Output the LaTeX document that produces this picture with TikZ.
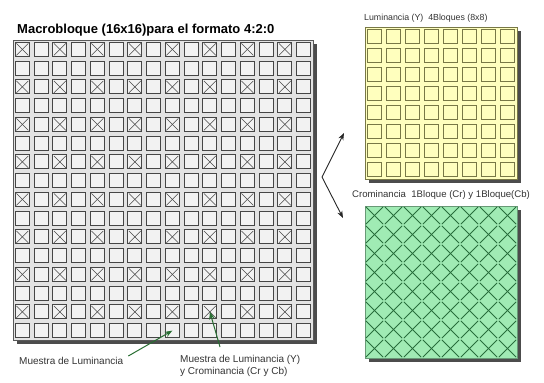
\documentclass[tikz,border=0pt]{standalone}
\usepackage{fontspec}
\setmainfont{Liberation Sans}
\usetikzlibrary{positioning, arrows.meta}

\definecolor{lumyellow}{RGB}{255,255,190}
\definecolor{lumedge}{RGB}{120,120,70}
\definecolor{cromgreen}{RGB}{160,235,180}
\definecolor{cromedge}{RGB}{40,110,60}
\definecolor{arrowgreen}{RGB}{40,110,50}

\tikzset{
	blockshadow/.style={fill=gray!60!black, draw=none},
	macrobox/.style={draw=gray!70!black, fill=gray!22, line width=0.8pt},
	graycell/.style={draw=gray!55!black, fill=gray!10, minimum size=14pt, inner sep=0pt, line width=0.8pt},
	lumbox/.style={draw=lumedge, fill=lumyellow, line width=0.8pt},
	lumcell/.style={draw=lumedge, fill=lumyellow, minimum size=14.5pt, inner sep=0pt, line width=0.8pt},
	crombox/.style={draw=cromedge!70, fill=cromgreen, line width=0.8pt},
	cromcell/.style={minimum size=19pt, inner sep=0pt},
	smalltext/.style={font=\fontsize{10}{12}\selectfont, text=black!80, inner sep=0pt}
}

\begin{document}
\begin{tikzpicture}[x=1pt, y=-1pt, >=Stealth]
      \useasboundingbox (0,0) rectangle (544,383);
      % macrobloque 16x16
      \fill[blockshadow] (17,44) rectangle (317,344);
      \draw[macrobox] (13,40) rectangle (313,340);
      \foreach \i in {0,...,15}
        \foreach \j in {0,...,15}
          \node[graycell] (c-\i-\j) at ({13+18.75*(\j+0.5)}, {40+18.75*(\i+0.5)}) {};
      \foreach \i in {0,2,...,14}
        \foreach \j in {0,2,...,14} {
          \draw[gray!55!black, shorten >=2pt, shorten <=2pt] (c-\i-\j.north west) -- (c-\i-\j.south east);
          \draw[gray!55!black, shorten >=2pt, shorten <=2pt] (c-\i-\j.north east) -- (c-\i-\j.south west);
        }
      \node[anchor=west, inner sep=0pt, font=\bfseries\fontsize{13}{15}\selectfont] (title) at (17,30) {Macrobloque (16x16)para el formato 4:2:0};

      % luminancia 8x8
      \fill[blockshadow] (369,31) rectangle (521,183);
      \draw[lumbox] (365,27) rectangle (517,179);
      \foreach \i in {0,...,7}
        \foreach \j in {0,...,7}
          \node[lumcell] (y-\i-\j) at ({365+19*(\j+0.5)}, {27+19*(\i+0.5)}) {};
      \node[smalltext, anchor=west, font=\fontsize{8.8}{10}\selectfont] (lumlabel) at (364,18) {Luminancia (Y)\ \ 4Bloques (8x8)};

      % crominancia 8x8
      \fill[blockshadow] (369,210) rectangle (521,362);
      \draw[crombox] (365,206) rectangle (517,358);
      \foreach \i in {0,...,7}
        \foreach \j in {0,...,7} {
          \node[cromcell] (g-\i-\j) at ({365+19*(\j+0.5)}, {206+19*(\i+0.5)}) {};
          \draw[cromedge, line width=0.9pt, shorten >=1.5pt, shorten <=1.5pt] (g-\i-\j.north west) -- (g-\i-\j.south east);
          \draw[cromedge, line width=0.9pt, shorten >=1.5pt, shorten <=1.5pt] (g-\i-\j.north east) -- (g-\i-\j.south west);
        }
      \node[smalltext, anchor=west, font=\fontsize{9.6}{11}\selectfont] (cromlabel) at (352,195) {Crominancia\ \ 1Bloque (Cr) y 1Bloque(Cb)};

      % flechas
      \coordinate (split) at (322,177);
      \coordinate (toY) at (344,133);
      \coordinate (toC) at (343,218);
      \draw[->, gray!30!black, line width=0.9pt] (split) -- (toY);
      \draw[->, gray!30!black, line width=0.9pt] (split) -- (toC);

      \node[smalltext, anchor=west] (mlum) at (19,361) {Muestra de Luminancia};
      \node[smalltext, anchor=north west, align=left] (mboth) at (180,355) {Muestra de Luminancia (Y)\\y Crominancia (Cr y Cb)};
      \draw[->, arrowgreen, line width=1pt] (mlum.east) ++(5,-5) -- (c-15-8.center);
      \draw[->, arrowgreen, line width=1pt] (mboth.north west) ++(40,-8) -- (c-14-10.center);
\end{tikzpicture}
\end{document}
